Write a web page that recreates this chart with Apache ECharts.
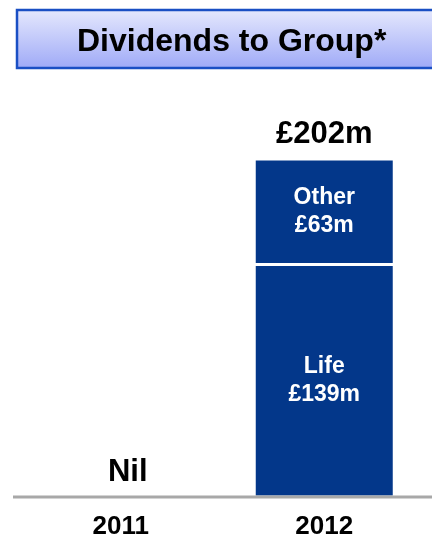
<!DOCTYPE html>
<html>
<head>
<meta charset="utf-8">
<script src="https://cdn.jsdelivr.net/npm/echarts@6/dist/echarts.min.js"></script>
<style>
  html, body { margin: 0; padding: 0; background: #fff; }
  #chart { width: 432px; height: 535px; }
</style>
</head>
<body>
<div id="chart"></div>
<script>
const years = ["2011", "2012"];
const life = ["-", 139];
const other = ["-", 63];
const totals = [0, 202];

const font = "'Liberation Sans', Arial, sans-serif";
const barColor = "#03378a";

let chart = echarts.init(document.getElementById("chart"));

// "Nil" sits a little right of the 2011 tick in the original
let totalData = totals.map(function (v) {
  return v === 0 ? { value: v, label: { offset: [7, 0] } } : v;
});

let option = {
  animation: false,
  title: {
    text: "Dividends to Group*",
    left: 72,
    top: 21,
    textStyle: { fontFamily: font, fontSize: 32, fontWeight: "bold", color: "#000" }
  },
  graphic: [
    {
      type: "rect",
      z: -10,
      shape: { x: 17, y: 10, width: 430, height: 58 },
      style: {
        fill: new echarts.graphic.LinearGradient(0, 0, 0, 1, [
          { offset: 0, color: "#e6e9fd" },
          { offset: 1, color: "#9ea9f7" }
        ]),
        stroke: "#1a4fc4",
        lineWidth: 2.5
      }
    },
    {
      // baseline runs past the plot on both sides
      type: "line",
      z: 100,
      shape: { x1: 13, y1: 497, x2: 432, y2: 497 },
      style: { stroke: "#a8a8a8", lineWidth: 3 }
    }
  ],
  grid: { left: 19, right: 6, top: 159, bottom: 38, outerBoundsMode: "none", containLabel: false },
  xAxis: {
    type: "category",
    data: years,
    axisLine: { show: false },
    axisTick: { show: false },
    axisLabel: { margin: 17, fontFamily: font, fontSize: 26, fontWeight: "bold", color: "#000" }
  },
  yAxis: {
    type: "value",
    min: 0,
    max: 202,
    show: false,
    splitLine: { show: false }
  },
  series: [
    {
      name: "Life",
      type: "bar",
      stack: "div",
      barWidth: 140,
      data: life,
      itemStyle: { color: barColor, borderColor: "#fff", borderWidth: 1.5 },
      label: {
        show: true,
        position: "inside",
        formatter: "{a}\n£{c}m",
        fontFamily: font, fontSize: 23, fontWeight: "bold", color: "#fff", lineHeight: 28
      }
    },
    {
      name: "Other",
      type: "bar",
      stack: "div",
      barWidth: 140,
      data: other,
      itemStyle: { color: barColor, borderColor: "#fff", borderWidth: 1.5 },
      label: {
        show: true,
        position: "inside",
        formatter: "{a}\n£{c}m",
        fontFamily: font, fontSize: 23, fontWeight: "bold", color: "#fff", lineHeight: 28
      }
    },
    {
      name: "Total",
      type: "scatter",
      symbolSize: 1,
      itemStyle: { color: "#fff", opacity: 1 },
      data: totalData,
      label: {
        show: true,
        position: "top",
        distance: 9,
        formatter: function (p) {
          return p.value === 0 ? "Nil" : "£" + p.value + "m";
        },
        fontFamily: font, fontSize: 31, fontWeight: "bold", color: "#000"
      }
    }
  ]
};
chart.setOption(option);
</script>
</body>
</html>
